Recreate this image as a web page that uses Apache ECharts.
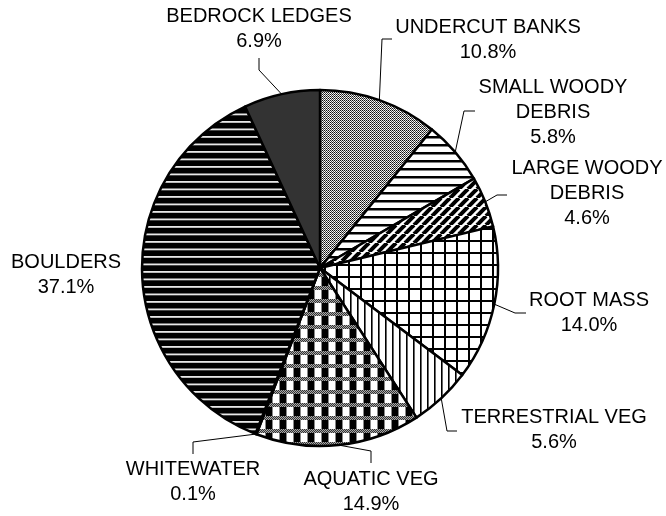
<!DOCTYPE html>
<html>
<head>
<meta charset="utf-8">
<script src="https://cdn.jsdelivr.net/npm/echarts@6/dist/echarts.min.js"></script>
<style>
html,body{margin:0;padding:0;background:#fff;}
#c{width:666px;height:516px;}
</style>
</head>
<body>
<div id="c"></div>
<script>
// ---- data ----
var categories = ['UNDERCUT BANKS', 'SMALL WOODY\nDEBRIS', 'LARGE WOODY\nDEBRIS', 'ROOT MASS',
  'TERRESTRIAL VEG', 'AQUATIC VEG', 'WHITEWATER', 'BOULDERS', 'BEDROCK LEDGES'];
var values = [10.8, 5.8, 4.6, 14.0, 5.6, 14.9, 0.1, 37.1, 6.9];

// ---- label layout (text block centres and elbow points of the leader lines) ----
var labelSpots = [
  {x: 488, y: 40,  line: [[382, 39], [392, 39]]},
  {x: 553, y: 112, line: [[464, 111], [475, 111]]},
  {x: 587, y: 193, line: [[497, 195], [507, 195]]},
  {x: 589, y: 313, line: [[515, 313], [526, 313]]},
  {x: 554, y: 430, line: [[447, 431], [457, 431]]},
  {x: 371, y: 492, line: [[371, 451], [371, 463]]},
  {x: 193, y: 482, line: [[193, 442], [193, 454]]},
  {x: 66,  y: 275, line: null},
  {x: 259, y: 29,  line: [[259, 70], [259, 58]]}
];

// ---- fill patterns ----
function pat(w, h, bg, draw) {
  var c = document.createElement('canvas');
  c.width = w; c.height = h;
  var g = c.getContext('2d');
  g.fillStyle = bg; g.fillRect(0, 0, w, h);
  draw(g, w, h);
  return {image: c, repeat: 'repeat'};
}
var fills = [
  // undercut banks: fine checker
  pat(2, 2, '#fff', function (g) { g.fillStyle = '#111'; g.fillRect(0, 0, 1, 1); g.fillStyle = '#444'; g.fillRect(1, 1, 1, 1); g.fillStyle = '#ddd'; g.fillRect(1, 0, 1, 1); }),
  // small woody debris: horizontal lines
  pat(4, 8, '#fff', function (g, w) { g.fillStyle = '#000'; g.fillRect(0, 0, w, 2.5); }),
  // large woody debris: diagonal stripes
  pat(9, 9, '#fff', function (g, w, h) {
    g.strokeStyle = '#000'; g.lineWidth = 4;
    for (var k = -w; k <= w; k += w) { g.beginPath(); g.moveTo(k, h); g.lineTo(k + w, 0); g.stroke(); }
  }),
  // root mass: grid
  pat(12, 12, '#fff', function (g) { g.fillStyle = '#000'; g.fillRect(0, 0, 2, 12); g.fillRect(0, 0, 12, 2); }),
  // terrestrial veg: vertical lines
  pat(7, 4, '#fff', function (g) { g.fillStyle = '#000'; g.fillRect(0, 0, 1.6, 4); }),
  // aquatic veg: plaid
  pat(14, 13, '#fff', function (g) {
    g.fillStyle = '#000'; g.fillRect(0, 4, 6, 9);
    g.fillStyle = '#888'; g.fillRect(6, 4, 1, 9); g.fillRect(13, 4, 1, 9);
    g.fillStyle = '#aaa'; g.fillRect(0, 0, 14, 4);
    g.fillStyle = '#333';
    for (var x = 0; x < 14; x++) for (var y = 0; y < 4; y++) if ((x + y) % 2 === 0) g.fillRect(x, y, 1, 1);
  }),
  // whitewater
  '#ffffff',
  // boulders: black with thin light lines
  pat(4, 15, '#000', function (g, w) { g.fillStyle = '#e8e8e8'; g.fillRect(0, 1, w, 1.8); g.fillRect(0, 8.5, w, 1.8); }),
  // bedrock ledges
  '#333333'
];

var dataItems = categories.map(function (n, i) {
  var item = {name: n, value: values[i], itemStyle: {color: fills[i]}};
  if (!labelSpots[i].line) item.labelLine = {show: false};
  return item;
});

var chart = echarts.init(document.getElementById('c'), null, {renderer: 'canvas'});
chart.setOption({
  animation: false,
  backgroundColor: '#fff',
  series: [{
    type: 'pie',
    center: [320, 268],
    radius: [0, 178],
    startAngle: 90,
    clockwise: true,
    avoidLabelOverlap: false,
    data: dataItems,
    itemStyle: {borderColor: '#000', borderWidth: 2.5},
    emphasis: {disabled: true},
    label: {
      show: true,
      position: 'outside',
      color: '#000',
      fontFamily: 'Liberation Sans, Arial, sans-serif',
      fontSize: 20,
      lineHeight: 25,
      align: 'center',
      formatter: function (p) { return p.name + '\n' + p.value.toFixed(1) + '%'; }
    },
    labelLine: {show: true, length: 10, length2: 10, lineStyle: {color: '#000', width: 1}},
    labelLayout: function (p) {
      var s = labelSpots[p.dataIndex];
      var out = {x: s.x, y: s.y, align: 'center', verticalAlign: 'middle'};
      if (s.line && p.labelLinePoints) {
        out.labelLinePoints = [p.labelLinePoints[0], s.line[0], s.line[1]];
      }
      return out;
    }
  }]
});
</script>
</body>
</html>
